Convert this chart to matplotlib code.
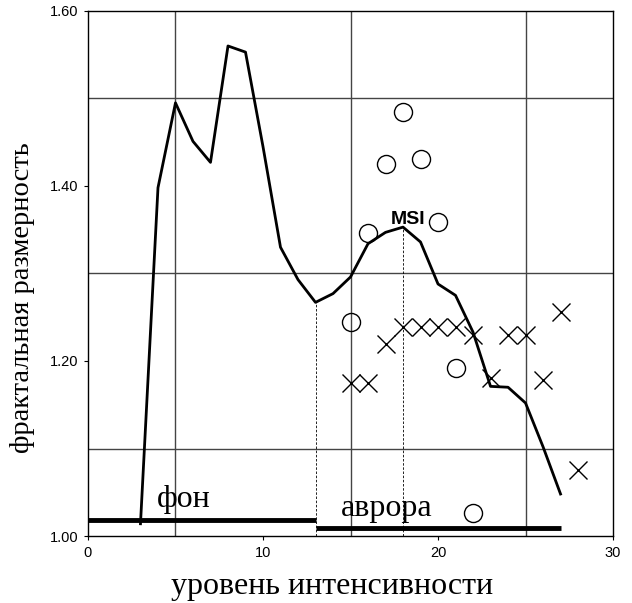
import numpy as np
import matplotlib
matplotlib.use("Agg")
from matplotlib import pyplot as plt

# mean curve
line_x = [3, 4, 5, 6, 7, 8, 9, 10, 11, 12, 13, 14, 15, 16, 17, 18, 19, 20, 21, 22, 23, 24, 25, 26, 27]
line_y = [1.014, 1.398, 1.495, 1.451, 1.427, 1.560, 1.553, 1.445, 1.330, 1.293, 1.267, 1.277, 1.296,
          1.334, 1.347, 1.353, 1.336, 1.288, 1.275, 1.233, 1.171, 1.170, 1.152, 1.102, 1.048]

# circles
circ_x = [15, 16, 17, 18, 19, 20, 21, 22]
circ_y = [1.244, 1.346, 1.425, 1.484, 1.431, 1.359, 1.192, 1.026]

# crosses
cross_x = [15, 16, 17, 18, 19, 20, 21, 22, 23, 24, 25, 26, 27, 28]
cross_y = [1.175, 1.175, 1.219, 1.239, 1.239, 1.239, 1.239, 1.230, 1.180, 1.230, 1.230, 1.178, 1.256, 1.075]

# background / aurora ranges
fon_x = [0, 13]
fon_y = 1.018
avr_x = [13, 27]
avr_y = 1.009

msi_x = 18
msi_y = 1.353
min_x = 13
min_y = 1.267

serif = ["Liberation Serif", "DejaVu Serif"]
sans = ["Liberation Sans", "DejaVu Sans"]

fig = plt.figure(figsize=(6.32, 6.03), dpi=100)
ax = fig.add_axes([0.1392, 0.1111, 0.8308, 0.8707])

ax.set_xlim(0, 30)
ax.set_ylim(1.0, 1.6)
ax.set_xticks([0, 10, 20, 30])
ax.set_yticks([1.0, 1.2, 1.4, 1.6])
ax.set_xticks(np.arange(0, 31, 5), minor=True)
ax.set_yticks(np.arange(1.0, 1.61, 0.1), minor=True)
ax.set_yticklabels(["1.00", "1.20", "1.40", "1.60"])
ax.grid(True, which="minor", color="#444444", linewidth=1.0)
ax.tick_params(which="minor", length=0)
ax.tick_params(which="major", length=3, width=0.8, direction="out", pad=4)
for lab in ax.get_xticklabels() + ax.get_yticklabels():
    lab.set_family(sans)
    lab.set_fontsize(10.5)
for s in ax.spines.values():
    s.set_linewidth(1.0)

ax.plot(line_x, line_y, color="black", linewidth=2.0, zorder=3)
ax.plot(circ_x, circ_y, linestyle="none", marker="o", markersize=13, markerfacecolor="none",
        markeredgecolor="black", markeredgewidth=1.0, zorder=4)
ax.plot(cross_x, cross_y, linestyle="none", marker="x", markersize=13,
        color="black", markeredgewidth=1.0, zorder=4)

ax.plot(fon_x, [fon_y, fon_y], color="black", linewidth=3.5, solid_capstyle="butt", zorder=3)
ax.plot(avr_x, [avr_y, avr_y], color="black", linewidth=3.5, solid_capstyle="butt", zorder=3)

ax.plot([min_x, min_x], [1.0, min_y], color="black", linewidth=0.6, linestyle=(0, (3, 2)), zorder=2)
ax.plot([msi_x, msi_x], [1.0, msi_y], color="black", linewidth=0.6, linestyle=(0, (3, 2)), zorder=2)

ax.text(18.3, 1.357, "MSI", family=sans, fontsize=14, fontweight="bold",
        ha="center", va="baseline")
ax.text(3.93, 1.0335, "фон", family=serif, fontsize=23, ha="left", va="baseline")
ax.text(14.46, 1.0229, "аврора", family=serif, fontsize=23, ha="left", va="baseline")

fig.text(331.8 / 632, 1 - 594 / 603, "уровень интенсивности", family=serif, fontsize=23,
         ha="center", va="baseline")
fig.text(23 / 632, 1 - 297.5 / 603, "фрактальная размерность", family=serif, fontsize=20.5,
         rotation=90, ha="center", va="center")

fig.savefig("out.png", dpi=100)
